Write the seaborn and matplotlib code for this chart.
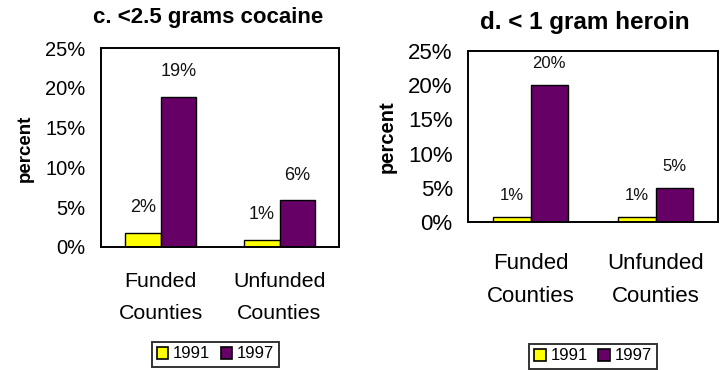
import matplotlib
matplotlib.use("Agg")
import matplotlib.pyplot as plt
from matplotlib.patches import Patch
import seaborn as sns
import pandas as pd

# ---- data ----
categories = ["Funded\nCounties", "Unfunded\nCounties"]
years = ["1991", "1997"]
cocaine_1991 = [1.8, 0.9]
cocaine_1997 = [18.9, 5.9]
heroin_1991 = [0.8, 0.8]
heroin_1997 = [20.1, 5.0]
title_left = "c. <2.5 grams cocaine"
title_right = "d. < 1 gram heroin"
ylabel = "percent"
yticks = [0, 5, 10, 15, 20, 25]
ytick_labels = ["0%", "5%", "10%", "15%", "20%", "25%"]
colors = ["#FFFF00", "#660066"]

sns.set_style("white")
plt.rcParams["font.family"] = ["Liberation Sans", "DejaVu Sans"]
plt.rcParams["text.color"] = "black"
plt.rcParams["xtick.color"] = "black"
plt.rcParams["ytick.color"] = "black"
plt.rcParams["xtick.labelcolor"] = "black"
plt.rcParams["ytick.labelcolor"] = "black"

W, H = 723, 370
fig = plt.figure(figsize=(W / 100, H / 100), dpi=100)


def make_df(v91, v97):
    rows = []
    for c, a, b in zip(categories, v91, v97):
        rows.append({"county": c, "year": years[0], "value": a})
        rows.append({"county": c, "year": years[1], "value": b})
    return pd.DataFrame(rows)


def px_axes(l, t, r, b):
    return fig.add_axes([l / W, 1 - b / H, (r - l) / W, (b - t) / H])


def draw(ax, v91, v97, tick_fs, cat_fs, lab_fs, lab_off, xpad, ytl, xtl, cat_ls):
    df = make_df(v91, v97)
    sns.barplot(data=df, x="county", y="value", hue="year", palette=colors,
                width=0.6, edgecolor="black", linewidth=1.0, legend=False,
                ax=ax, saturation=1, order=categories, hue_order=years)
    ax.set_xlim(-0.5, 1.5)
    ax.set_ylim(0, 25)
    ax.set_xlabel("")
    ax.set_ylabel("")
    ax.set_yticks(yticks)
    ax.set_yticklabels(ytick_labels, fontsize=tick_fs)
    ax.set_xticks([-0.5, 0.5, 1.5])
    ax.set_xticklabels(["", "", ""])
    ax.set_xticks([0, 1], minor=True)
    ax.set_xticklabels(categories, minor=True, fontsize=cat_fs, linespacing=cat_ls)
    ax.tick_params(axis="x", which="major", direction="out", length=xtl, width=1.4, color="black")
    ax.tick_params(axis="x", which="minor", length=0, pad=xpad)
    ax.tick_params(axis="y", direction="out", length=ytl, width=1.4, color="black", pad=7)
    for s in ax.spines.values():
        s.set_visible(True)
        s.set_color("black")
        s.set_linewidth(1.4)
    ax.grid(False)
    offsets = [-0.15, 0.15]
    for hi, vals in enumerate([v91, v97]):
        for ci, v in enumerate(vals):
            ax.annotate(f"{round(v):d}%", xy=(ci + offsets[hi], v), xytext=(0, lab_off),
                        textcoords="offset points", ha="center", va="center",
                        fontsize=lab_fs, color="#111111")


axL = px_axes(101, 48, 339, 247)
draw(axL, cocaine_1991, cocaine_1997, tick_fs=14.5, cat_fs=15.4, lab_fs=13,
     lab_off=18, xpad=18, ytl=4, xtl=6, cat_ls=1.85)
axR = px_axes(468, 51, 718, 222)
draw(axR, heroin_1991, heroin_1997, tick_fs=16, cat_fs=16, lab_fs=12,
     lab_off=15, xpad=22, ytl=4, xtl=7, cat_ls=1.75)

fig.text(208 / W, 1 - 18 / H, title_left, ha="center", va="center",
         fontsize=16, fontweight="bold")
fig.text(585 / W, 1 - 23 / H, title_right, ha="center", va="center",
         fontsize=17.5, fontweight="bold")
fig.text(25 / W, 1 - 148 / H, ylabel, ha="center", va="center", rotation=90,
         fontsize=13.5, fontweight="bold")
fig.text(387 / W, 1 - 137 / H, ylabel, ha="center", va="center", rotation=90,
         fontsize=14.5, fontweight="bold")

handles = [Patch(facecolor=c, edgecolor="black", linewidth=1.2) for c in colors]
for cx, cy in [(215.5, 354), (593, 356)]:
    leg = fig.legend(handles, years, loc="center", bbox_to_anchor=(cx / W, 1 - cy / H),
                     ncol=2, frameon=True, fancybox=False, fontsize=12,
                     handlelength=0.7, handleheight=0.7, handletextpad=0.3,
                     columnspacing=0.6, borderpad=0.3, borderaxespad=0)
    leg.get_frame().set_edgecolor("black")
    leg.get_frame().set_linewidth(1.4)

fig.savefig("out.png", dpi=100, facecolor="white")
